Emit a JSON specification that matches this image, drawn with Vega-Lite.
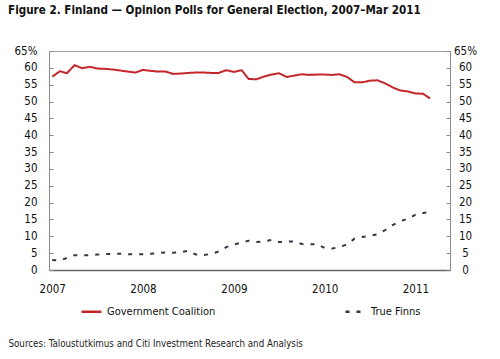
{
  "$schema": "https://vega.github.io/schema/vega-lite/v6.json",
  "width": 401,
  "height": 219,
  "autosize": {"type": "none"},
  "padding": {"left": 49, "top": 51, "right": 50, "bottom": 89},
  "background": "white",
  "title": {
    "text": "Figure 2. Finland — Opinion Polls for General Election, 2007–Mar 2011",
    "anchor": "start",
    "frame": "group",
    "dx": -41,
    "offset": 28,
    "font": "DejaVu Sans Condensed, Liberation Sans, sans-serif",
    "fontSize": 11.6,
    "fontWeight": "bold",
    "color": "#111111"
  },
  "data": {
    "values": [
      {"date": "2007-01-01", "Government Coalition": 57.4, "True Finns": 3.0},
      {"date": "2007-02-01", "Government Coalition": 59.0, "True Finns": 2.8},
      {"date": "2007-03-01", "Government Coalition": 58.4, "True Finns": 3.6},
      {"date": "2007-04-01", "Government Coalition": 60.8, "True Finns": 4.4},
      {"date": "2007-05-01", "Government Coalition": 59.9, "True Finns": 4.4},
      {"date": "2007-06-01", "Government Coalition": 60.3, "True Finns": 4.4},
      {"date": "2007-07-01", "Government Coalition": 59.8, "True Finns": 4.6},
      {"date": "2007-08-01", "Government Coalition": 59.7, "True Finns": 4.7},
      {"date": "2007-09-01", "Government Coalition": 59.5, "True Finns": 4.8},
      {"date": "2007-10-01", "Government Coalition": 59.2, "True Finns": 4.85},
      {"date": "2007-11-01", "Government Coalition": 58.9, "True Finns": 4.7},
      {"date": "2007-12-01", "Government Coalition": 58.6, "True Finns": 4.7},
      {"date": "2008-01-01", "Government Coalition": 59.4, "True Finns": 4.7},
      {"date": "2008-02-01", "Government Coalition": 59.1, "True Finns": 4.8},
      {"date": "2008-03-01", "Government Coalition": 58.9, "True Finns": 5.0},
      {"date": "2008-04-01", "Government Coalition": 58.9, "True Finns": 5.2},
      {"date": "2008-05-01", "Government Coalition": 58.2, "True Finns": 5.1},
      {"date": "2008-06-01", "Government Coalition": 58.3, "True Finns": 5.3},
      {"date": "2008-07-01", "Government Coalition": 58.5, "True Finns": 5.7},
      {"date": "2008-08-01", "Government Coalition": 58.6, "True Finns": 4.6},
      {"date": "2008-09-01", "Government Coalition": 58.6, "True Finns": 4.4},
      {"date": "2008-10-01", "Government Coalition": 58.5, "True Finns": 4.8},
      {"date": "2008-11-01", "Government Coalition": 58.5, "True Finns": 5.5},
      {"date": "2008-12-01", "Government Coalition": 59.3, "True Finns": 6.8},
      {"date": "2009-01-01", "Government Coalition": 58.8, "True Finns": 7.6},
      {"date": "2009-02-01", "Government Coalition": 59.3, "True Finns": 8.1},
      {"date": "2009-03-01", "Government Coalition": 56.7, "True Finns": 8.7},
      {"date": "2009-04-01", "Government Coalition": 56.6, "True Finns": 8.3},
      {"date": "2009-05-01", "Government Coalition": 57.4, "True Finns": 8.5},
      {"date": "2009-06-01", "Government Coalition": 58.0, "True Finns": 8.9},
      {"date": "2009-07-01", "Government Coalition": 58.4, "True Finns": 8.3},
      {"date": "2009-08-01", "Government Coalition": 57.3, "True Finns": 8.4},
      {"date": "2009-09-01", "Government Coalition": 57.7, "True Finns": 8.5},
      {"date": "2009-10-01", "Government Coalition": 58.1, "True Finns": 7.7},
      {"date": "2009-11-01", "Government Coalition": 57.9, "True Finns": 7.6},
      {"date": "2009-12-01", "Government Coalition": 58.0, "True Finns": 7.7},
      {"date": "2010-01-01", "Government Coalition": 58.0, "True Finns": 6.5},
      {"date": "2010-02-01", "Government Coalition": 57.9, "True Finns": 6.4},
      {"date": "2010-03-01", "Government Coalition": 58.1, "True Finns": 6.8},
      {"date": "2010-04-01", "Government Coalition": 57.3, "True Finns": 7.6},
      {"date": "2010-05-01", "Government Coalition": 55.7, "True Finns": 9.3},
      {"date": "2010-06-01", "Government Coalition": 55.7, "True Finns": 9.8},
      {"date": "2010-07-01", "Government Coalition": 56.2, "True Finns": 10.1},
      {"date": "2010-08-01", "Government Coalition": 56.3, "True Finns": 10.6},
      {"date": "2010-09-01", "Government Coalition": 55.4, "True Finns": 11.8},
      {"date": "2010-10-01", "Government Coalition": 54.2, "True Finns": 13.3},
      {"date": "2010-11-01", "Government Coalition": 53.3, "True Finns": 14.5},
      {"date": "2010-12-01", "Government Coalition": 53.0, "True Finns": 15.2},
      {"date": "2011-01-01", "Government Coalition": 52.4, "True Finns": 16.4},
      {"date": "2011-02-01", "Government Coalition": 52.3, "True Finns": 16.9},
      {"date": "2011-03-01", "Government Coalition": 50.9, "True Finns": 17.2}
    ]
  },
  "transform": [
    {"fold": ["Government Coalition", "True Finns"], "as": ["series", "value"]}
  ],
  "encoding": {
    "x": {
      "field": "date",
      "type": "temporal",
      "scale": {
        "type": "utc",
        "domain": [
          {"year": 2006, "month": 12, "date": 19, "utc": true},
          {"year": 2011, "month": 5, "date": 20, "utc": true}
        ]
      },
      "axis": {
        "values": [
          {"year": 2007, "month": 1, "date": 1, "utc": true},
          {"year": 2008, "month": 1, "date": 1, "utc": true},
          {"year": 2009, "month": 1, "date": 1, "utc": true},
          {"year": 2010, "month": 1, "date": 1, "utc": true},
          {"year": 2011, "month": 1, "date": 1, "utc": true}
        ],
        "format": "%Y",
        "formatType": "utc",
        "ticks": false,
        "grid": false,
        "labelPadding": 13,
        "domainColor": "#666666",
        "domainWidth": 1.5,
        "title": "Sources: Taloustutkimus and Citi Investment Research and Analysis",
        "titleAnchor": "start",
        "titleAlign": "left",
        "titleX": -41,
        "titleY": 73,
        "titleBaseline": "middle",
        "titleFontSize": 9.7,
        "titleFontWeight": "normal",
        "titleColor": "#222222"
      }
    },
    "y": {
      "field": "value",
      "type": "quantitative",
      "scale": {"domain": [0, 65], "nice": false},
      "axis": {
        "orient": "left",
        "values": [0, 5, 10, 15, 20, 25, 30, 35, 40, 45, 50, 55, 60, 65],
        "labelExpr": "datum.value == 65 ? '65%' : datum.label",
        "grid": false,
        "title": null,
        "tickSize": -4,
        "labelPadding": 16
      }
    }
  },
  "layer": [
    {
      "mark": {"type": "line", "strokeWidth": 2},
      "encoding": {
        "color": {
          "field": "series",
          "type": "nominal",
          "scale": {"domain": ["Government Coalition", "True Finns"], "range": ["#c3272b", "#333844"]},
          "legend": {
            "orient": "none",
            "legendX": 31,
            "legendY": 249,
            "direction": "horizontal",
            "columns": 2,
            "columnPadding": 124,
            "title": null,
            "symbolType": "stroke",
            "symbolSize": 400,
            "symbolStrokeWidth": 2.5,
            "labelFontSize": 11,
            "labelOffset": 4,
            "labelColor": "#111111",
            "labelLimit": 300
          }
        },
        "strokeDash": {
          "field": "series",
          "type": "nominal",
          "scale": {"domain": ["Government Coalition", "True Finns"], "range": [[1, 0], [4, 7]]},
          "legend": null
        }
      }
    },
    {
      "mark": {"type": "point", "opacity": 0},
      "encoding": {
        "y": {
          "field": "value",
          "type": "quantitative",
          "scale": {"domain": [0, 65], "nice": false},
          "axis": {
            "orient": "right",
            "values": [0, 5, 10, 15, 20, 25, 30, 35, 40, 45, 50, 55, 60, 65],
            "labelExpr": "datum.value == 65 ? '65%' : datum.label",
            "grid": false,
            "title": null,
            "tickSize": -4,
            "labelPadding": 19,
            "labelAlign": "center"
          }
        }
      }
    }
  ],
  "resolve": {"axis": {"y": "independent"}},
  "config": {
    "font": "DejaVu Sans Condensed, Liberation Sans, sans-serif",
    "view": {"stroke": "#a0a0a0", "strokeWidth": 1},
    "axis": {
      "labelFont": "DejaVu Sans Condensed, Liberation Sans, sans-serif",
      "titleFont": "DejaVu Sans Condensed, Liberation Sans, sans-serif",
      "labelFontSize": 11.5,
      "labelColor": "#111111",
      "domainColor": "#8a8a8a",
      "tickColor": "#8a8a8a"
    },
    "legend": {"labelFont": "DejaVu Sans Condensed, Liberation Sans, sans-serif"}
  }
}
